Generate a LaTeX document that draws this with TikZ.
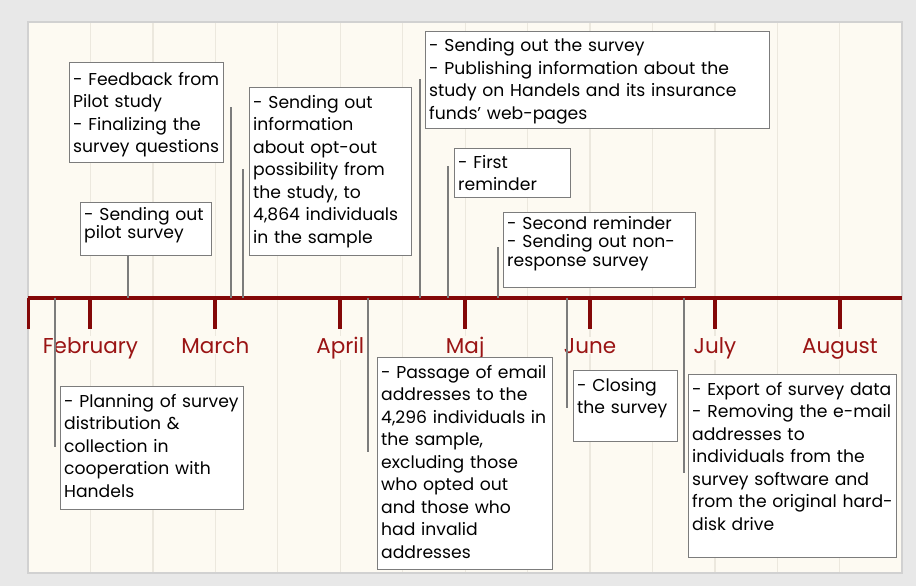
\documentclass[tikz,border=0pt]{standalone}
\usepackage{fontspec}
\setmainfont{Poppins}
\usetikzlibrary{positioning}

\definecolor{tlred}{HTML}{840808}
\definecolor{monthred}{HTML}{9A1414}
\definecolor{panel}{HTML}{FDFAF2}
\definecolor{gridc}{HTML}{ECE8DE}
\definecolor{edgegray}{HTML}{7C7C7C}
\definecolor{outergray}{HTML}{E8E8E8}

\tikzset{
  evbox/.style={draw=edgegray, line width=1.3pt, fill=white, anchor=north west, inner sep=0pt},
  evtext/.style={anchor=base west, align=left, inner sep=0pt, text width=#1,
    font=\fontsize{17.2}{22.5}\selectfont},
  tight/.style={font=\fontsize{17.2}{18.5}\selectfont},
  month/.style={text=monthred, fill=panel, inner sep=1pt, anchor=base,
    font=\fontsize{21.5}{25}\selectfont},
  stem/.style={draw=edgegray, line width=1.3pt},
}

\begin{document}
\begin{tikzpicture}[x=1pt, y=-1pt, line cap=butt]
  \useasboundingbox (0,0) rectangle (916,586);
  \fill[outergray] (0,0) rectangle (916,586);
  \draw[fill=panel, draw=black!18, line width=1.5pt] (28,22) rectangle (902,573);
  % background grid
  \foreach \k in {1,...,13}
    \draw[gridc, line width=1.2pt] ({28+62.45*\k},23) -- ({28+62.45*\k},572);

  % time axis with month ticks
  \coordinate (tl0) at (28,297.5);
  \coordinate (tl1) at (902,297.5);
  \draw[tlred, line width=4pt] (tl0) -- (tl1);
  \draw[tlred, line width=3pt] (tl0) -- ++(0,31.5);
  \foreach \m [count=\i] in {February,March,April,Maj,June,July,August}{
    \coordinate (m\i) at ({28+62.45*(2*\i-1)},297.5);
    \draw[tlred, line width=4pt] (m\i) -- ++(0,31.5);
    \node[month] (lab\i) at ([yshift=-55.5pt]m\i) {\m};
  }

  % stems from the axis
  \foreach \n/\x/\y in {pilot/128/255, fback/231/107, optout/243/169,
      send/420/79, first/448/166, second/498/247,
      plan/55/447, passage/368/452, closing/567/408, export/684/473}{
    \coordinate (t-\n) at (\x,297.5);
    \coordinate (e-\n) at (\x,\y);
    \draw[stem] (t-\n) -- (e-\n);
  }

  % events above the axis
  \node[evbox, minimum width=154pt, minimum height=100pt] (fback) at (69,62) {};
  \node[evtext=154pt] at ([shift={(4,23)}]fback.north west)
    {- Feedback from\\Pilot study\\- Finalizing the\\survey questions};

  \node[evbox, minimum width=131pt, minimum height=53pt] (pilot) at (80,202) {};
  \node[evtext=131pt, tight] at ([shift={(4,18)}]pilot.north west)
    {- Sending out\\pilot survey};

  \node[evbox, minimum width=162pt, minimum height=168pt] (optout) at (249,87) {};
  \node[evtext=162pt] at ([shift={(4,21)}]optout.north west)
    {- Sending out\\information\\about opt-out\\possibility from\\the study, to\\4,864 individuals\\in the sample};

  \node[evbox, minimum width=344pt, minimum height=97pt] (send) at (425,31) {};
  \node[evtext=344pt] at ([shift={(4,21)}]send.north west)
    {- Sending out the survey\\- Publishing information about the\\study on Handels and its insurance\\funds' web-pages};

  \node[evbox, minimum width=116pt, minimum height=49pt] (first) at (454,148) {};
  \node[evtext=116pt] at ([shift={(4,20)}]first.north west)
    {- First\\reminder};

  \node[evbox, minimum width=192pt, minimum height=75pt] (second) at (503,212) {};
  \node[evtext=192pt, tight] at ([shift={(4,17)}]second.north west)
    {- Second reminder\\- Sending out non-\\response survey};

  % events below the axis
  \node[evbox, minimum width=183pt, minimum height=123pt] (plan) at (60,386) {};
  \node[evtext=183pt] at ([shift={(4,21)}]plan.north west)
    {- Planning of survey\\distribution \&\\collection in\\cooperation with\\Handels};

  \node[evbox, minimum width=175pt, minimum height=212pt] (passage) at (377,357) {};
  \node[evtext=175pt] at ([shift={(4,21)}]passage.north west)
    {- Passage of email\\addresses to the\\4,296 individuals in\\the sample,\\excluding those\\who opted out\\and those who\\had invalid\\addresses};

  \node[evbox, minimum width=104pt, minimum height=71pt] (closing) at (573,370) {};
  \node[evtext=104pt] at ([shift={(4,21)}]closing.north west)
    {- Closing\\the survey};

  \node[evbox, minimum width=208pt, minimum height=183pt] (export) at (688,374) {};
  \node[evtext=208pt] at ([shift={(4,21)}]export.north west)
    {- Export of survey data\\- Removing the e-mail\\addresses to\\individuals from the\\survey software and\\from the original hard-\\disk drive};
\end{tikzpicture}
\end{document}
